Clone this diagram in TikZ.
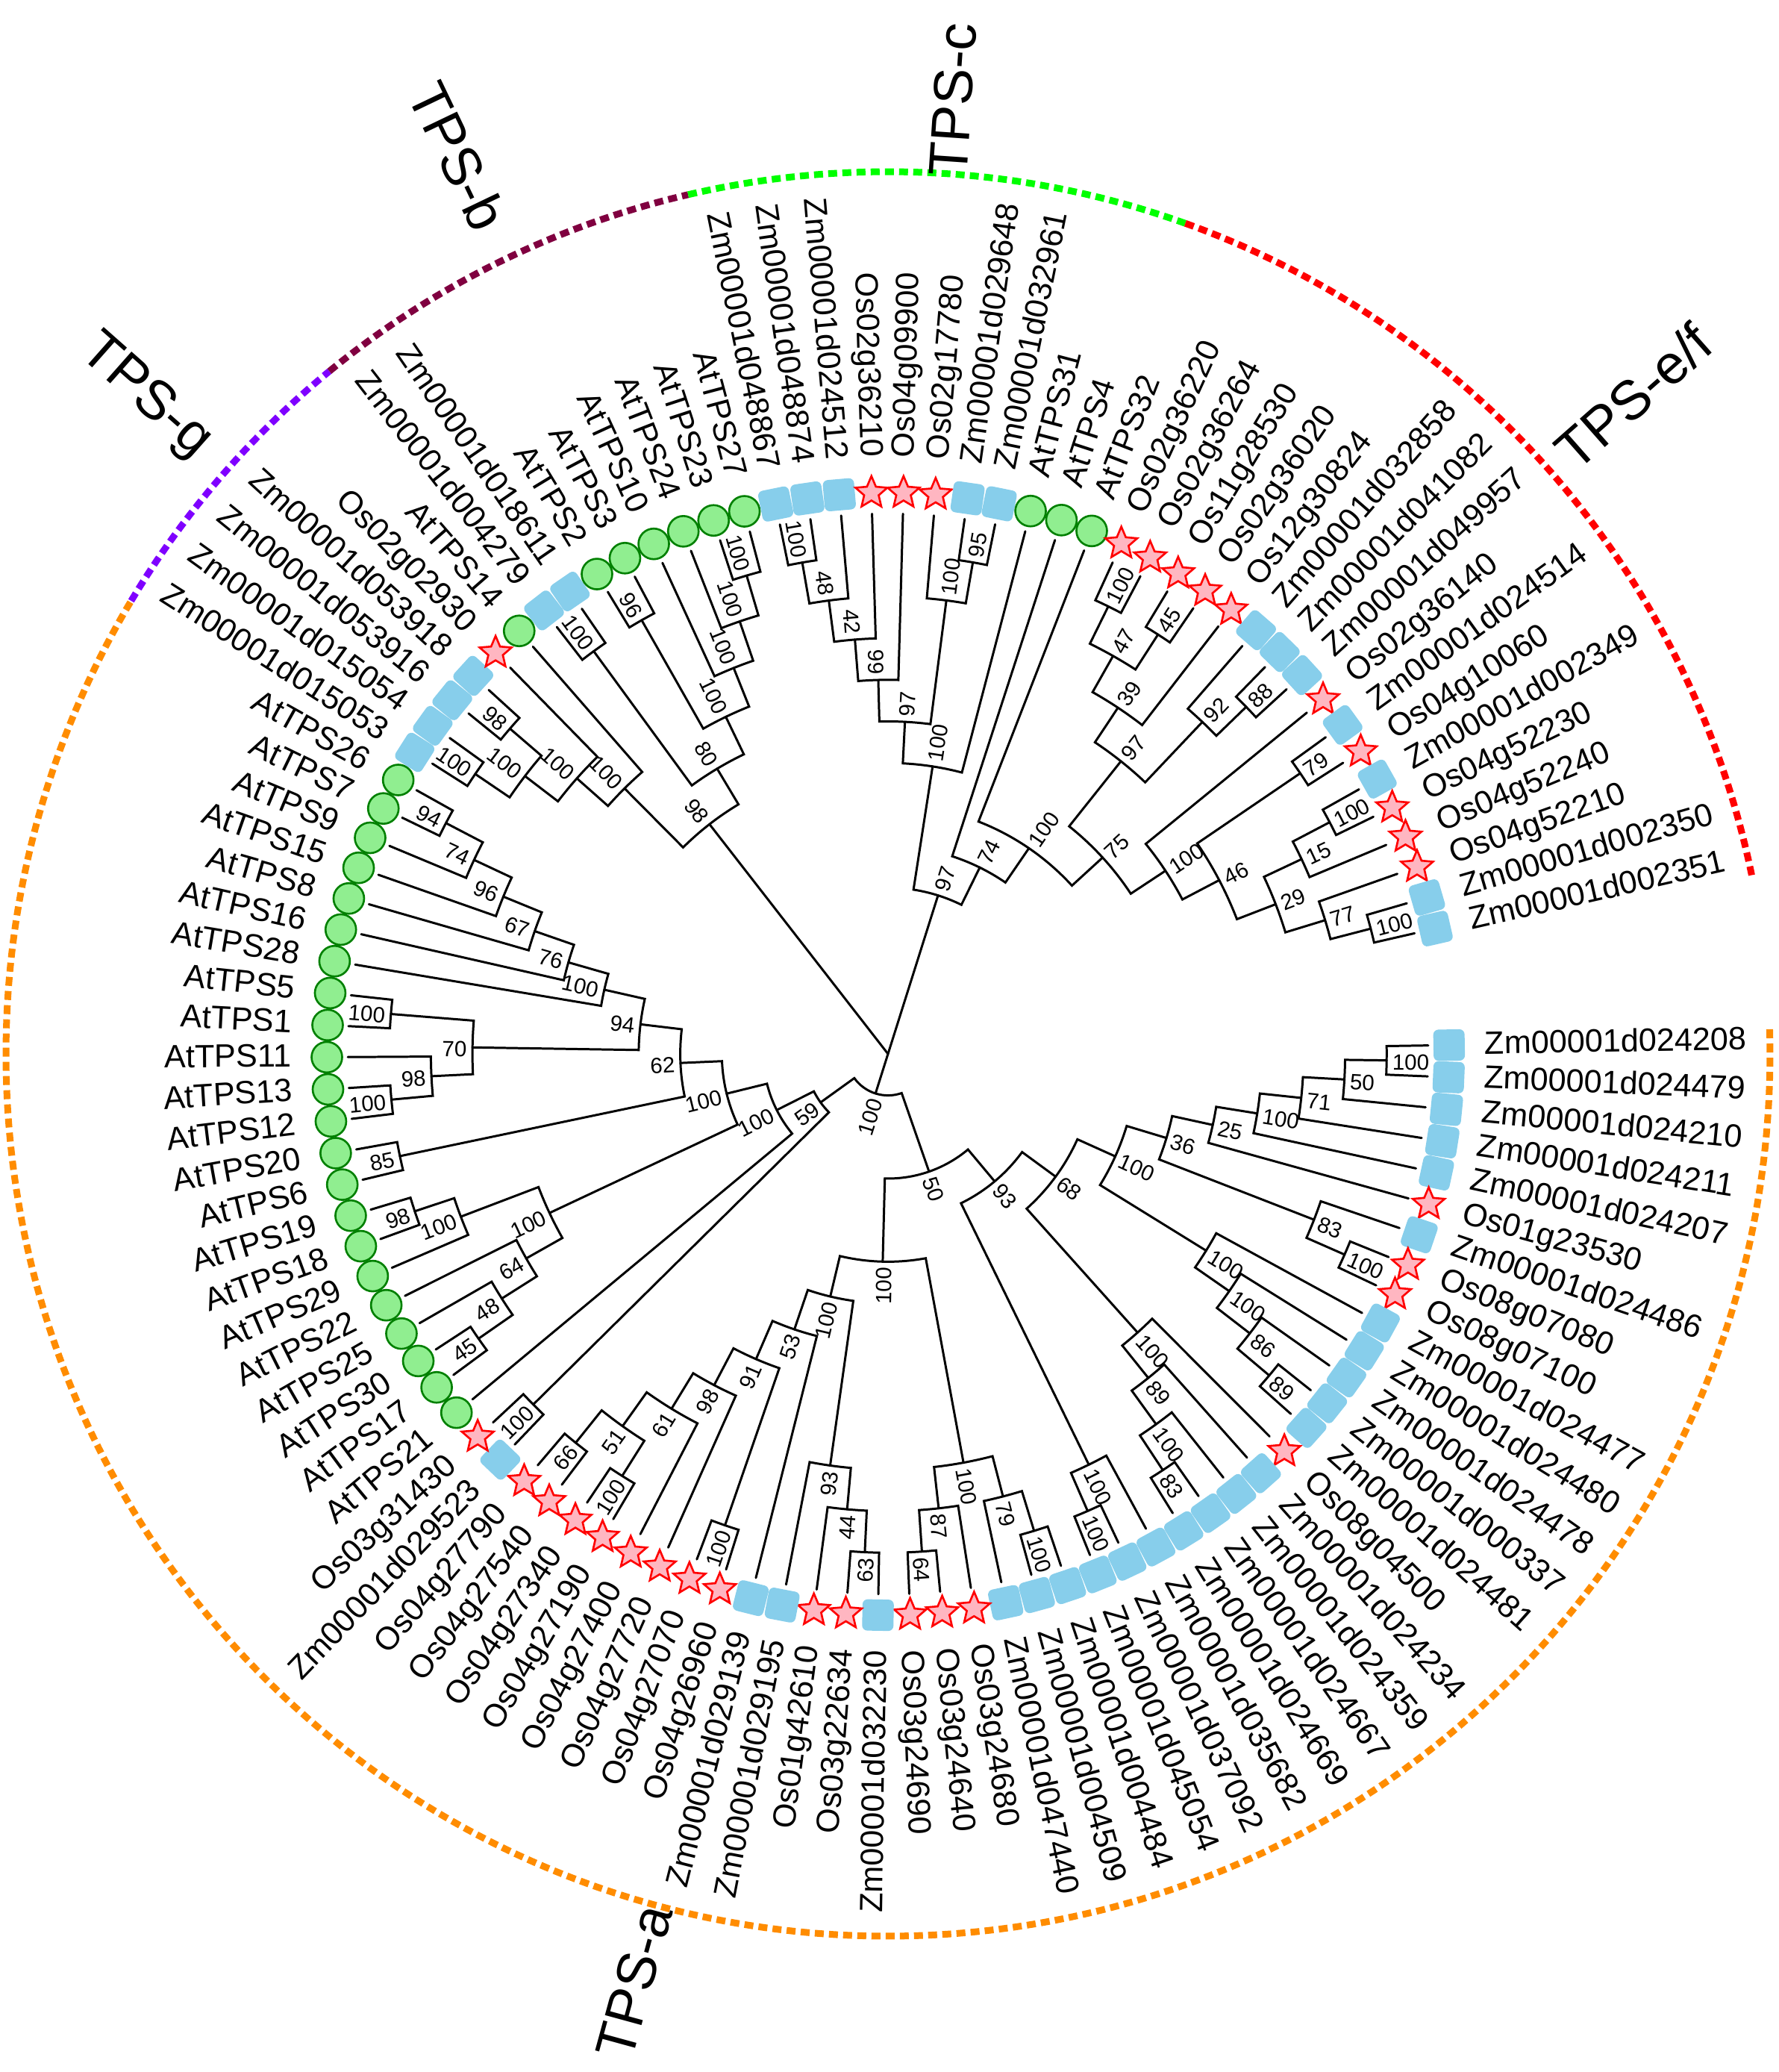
\documentclass[tikz,border=0pt]{standalone}
\usepackage{fontspec}
\setmainfont{Liberation Sans}
\usetikzlibrary{shapes.geometric}

\definecolor{tpsa}{HTML}{FF8C00}
\definecolor{tpsg}{HTML}{7F00FF}
\definecolor{tpsb}{HTML}{800040}
\definecolor{tpsc}{HTML}{00FF00}
\definecolor{tpsef}{HTML}{FF0000}
\definecolor{circfill}{HTML}{90EE90}
\definecolor{circedge}{HTML}{008000}
\definecolor{sqfill}{HTML}{87CEEB}
\definecolor{starfill}{HTML}{FFB6C1}

\def\rtip{7.24}   % radius of the leaf tips
\def\lstep{0.557} % one level of the cladogram
\def\rmark{7.52}  % radius of the markers
\def\rname{7.99}  % radius where the names start

\tikzset{
  branch/.style={line width=0.85pt, line cap=round},
  boot/.style={font=\fontsize{8.4}{10}\selectfont, inner sep=0pt, text height=0.72em, text depth=0pt},
  leafname/.style={font=\fontsize{12.3}{14}\selectfont, inner sep=0pt, text height=0.72em, text depth=0pt},
  sq/.style={rectangle, rounded corners=0.07cm, fill=sqfill, minimum size=0.42cm, inner sep=0pt, rotate=\la},
  st/.style={star, star points=5, star point ratio=2.2, draw=red, fill=starfill, line width=0.75pt, minimum size=0.45cm, inner sep=0pt},
  ci/.style={circle, draw=circedge, fill=circfill, line width=0.75pt, minimum size=0.41cm, inner sep=0pt},
  grouparc/.style={line width=0.09cm, dash pattern=on 0.12cm off 0.07cm},
  grouplabel/.style={font=\fontsize{21}{25}\selectfont, inner sep=0pt}
}

% angle and level of a leaf
\newcommand\setleaf[1]{%
  \pgfmathsetmacro\tpAng{0.9-3.283*#1}%
  \expandafter\xdef\csname a@#1\endcsname{\tpAng}%
  \expandafter\xdef\csname h@#1\endcsname{0}}

% clade: name, first child, second child, bootstrap
\newcommand\clade[4]{%
  \edef\tpA{\csname a@#2\endcsname}\edef\tpB{\csname a@#3\endcsname}%
  \edef\tpHa{\csname h@#2\endcsname}\edef\tpHb{\csname h@#3\endcsname}%
  \pgfmathtruncatemacro\tpH{max(\tpHa,\tpHb)+1}%
  \pgfmathsetmacro\tpAv{(\tpA+\tpB)/2}%
  \pgfmathsetmacro\tpR{\rtip-\lstep*\tpH}%
  \pgfmathsetmacro\tpRa{\rtip-\lstep*\tpHa}%
  \pgfmathsetmacro\tpRb{\rtip-\lstep*\tpHb}%
  \pgfmathsetmacro\tpRl{\tpR+0.07}%
  \draw[branch] (\tpA:\tpRa) -- (\tpA:\tpR) arc[start angle=\tpA, end angle=\tpB, radius=\tpR] -- (\tpB:\tpRb);
  \coordinate (#1) at (\tpAv:\tpR);
  \pgfmathtruncatemacro\tpFlip{cos(\tpAv)<0}%
  \ifnum\tpFlip=1
    \node[boot, anchor=east, rotate=\tpAv+180] (#1-bs) at (\tpAv:\tpRl) {#4};
  \else
    \node[boot, anchor=west, rotate=\tpAv] (#1-bs) at (\tpAv:\tpRl) {#4};
  \fi
  \expandafter\xdef\csname a@#1\endcsname{\tpAv}%
  \expandafter\xdef\csname h@#1\endcsname{\tpH}}

\begin{document}
\begin{tikzpicture}
  \useasboundingbox (-11.90,-13.64) rectangle (11.94,14.12);
  \foreach \ix in {0,...,106} {\setleaf{\ix}}

  % TPS-a, maize group on the right
  \clade{c01}{0}{1}{100}
  \clade{c02}{c01}{2}{50}
  \clade{c03}{c02}{3}{71}
  \clade{c04}{c03}{4}{100}
  \clade{c05}{c04}{5}{25}
  \clade{c78}{7}{8}{100}
  \clade{c68}{6}{c78}{83}
  \clade{c36}{c05}{c68}{36}
  \clade{x1}{12}{13}{89}
  \clade{x2}{11}{x1}{86}
  \clade{x3}{10}{x2}{100}
  \clade{x4}{9}{x3}{100}
  \clade{yy}{c36}{x4}{100}
  \clade{s4}{17}{18}{83}
  \clade{s3}{16}{s4}{100}
  \clade{s2}{15}{s3}{89}
  \clade{s1}{14}{s2}{100}
  \clade{n68}{yy}{s1}{68}
  \clade{u2}{20}{21}{100}
  \clade{u1}{19}{u2}{100}
  \clade{n93}{n68}{u1}{93}
  % TPS-a, bottom
  \clade{v1}{22}{23}{100}
  \clade{v2}{v1}{24}{79}
  \clade{w1}{26}{27}{64}
  \clade{w2}{25}{w1}{87}
  \clade{w3}{v2}{w2}{100}
  \clade{q63}{28}{29}{63}
  \clade{q44}{q63}{30}{44}
  \clade{q93}{31}{q44}{93}
  \clade{q34}{33}{34}{100}
  \clade{q38}{37}{38}{100}
  \clade{q66}{39}{40}{66}
  \clade{q51}{q38}{q66}{51}
  \clade{q61}{36}{q51}{61}
  \clade{q98}{35}{q61}{98}
  \clade{q91}{q34}{q98}{91}
  \clade{q53}{32}{q91}{53}
  \clade{qq}{q93}{q53}{100}
  \clade{big}{w3}{qq}{100}
  \clade{n50}{n93}{big}{50}
  % TPS-a, Arabidopsis
  \clade{p42}{41}{42}{100}
  \clade{a45}{44}{45}{45}
  \clade{a48}{46}{a45}{48}
  \clade{a64}{47}{a48}{64}
  \clade{a50}{49}{50}{98}
  \clade{a49}{48}{a50}{100}
  \clade{a44}{a49}{a64}{100}
  \clade{a85}{51}{52}{85}
  \clade{a13}{53}{54}{100}
  \clade{a98}{55}{a13}{98}
  \clade{a56}{56}{57}{100}
  \clade{a70}{a56}{a98}{70}
  \clade{a63}{63}{64}{94}
  \clade{a74}{62}{a63}{74}
  \clade{a96}{61}{a74}{96}
  \clade{a67}{60}{a96}{67}
  \clade{a76}{59}{a67}{76}
  \clade{a10}{58}{a76}{100}
  \clade{a94}{a10}{a70}{94}
  \clade{a62}{a94}{a85}{62}
  \clade{n2}{a62}{a44}{100}
  \clade{n1}{n2}{43}{100}
  \clade{n59}{n1}{p42}{59}
  \clade{n100}{n50}{n59}{100}
  % TPS-g and TPS-b
  \clade{g1}{65}{66}{100}
  \clade{g2}{67}{68}{98}
  \clade{g3}{g1}{g2}{100}
  \clade{g4}{g3}{69}{100}
  \clade{g5}{g4}{70}{100}
  \clade{b1}{71}{72}{100}
  \clade{b2}{73}{74}{96}
  \clade{b3}{77}{78}{100}
  \clade{b4}{76}{b3}{100}
  \clade{b5}{75}{b4}{100}
  \clade{b6}{b2}{b5}{100}
  \clade{b7}{b1}{b6}{80}
  \clade{n98}{g5}{b7}{98}
  % TPS-c
  \clade{k1}{79}{80}{100}
  \clade{k2}{k1}{81}{48}
  \clade{k3}{k2}{82}{42}
  \clade{k4}{k3}{83}{99}
  \clade{k5}{85}{86}{95}
  \clade{k6}{84}{k5}{100}
  \clade{k7}{k4}{k6}{97}
  \clade{k8}{k7}{87}{100}
  % TPS-e/f
  \clade{e1}{90}{91}{100}
  \clade{e2}{92}{93}{45}
  \clade{e3}{e1}{e2}{47}
  \clade{e4}{e3}{94}{39}
  \clade{e5}{96}{97}{88}
  \clade{e6}{95}{e5}{92}
  \clade{e7}{e4}{e6}{97}
  \clade{f1}{99}{100}{79}
  \clade{f2}{101}{102}{100}
  \clade{f3}{f2}{103}{15}
  \clade{f4}{105}{106}{100}
  \clade{f5}{104}{f4}{77}
  \clade{f6}{f3}{f5}{29}
  \clade{f7}{f1}{f6}{46}
  \clade{f8}{98}{f7}{100}
  \clade{e8}{e7}{f8}{75}
  \clade{e9}{89}{e8}{100}
  \clade{e10}{88}{e9}{74}
  \clade{n97}{k8}{e10}{97}

  % root
  \coordinate (root) at (0,0);
  \draw[branch] (root) -- (n100);
  \draw[branch] (root) -- (n98);
  \draw[branch] (root) -- (n97);

  % leaves: marker and name
  \foreach \ix/\mk/\nm in {0/sq/Zm00001d024208, 1/sq/Zm00001d024479, 2/sq/Zm00001d024210,
    3/sq/Zm00001d024211, 4/sq/Zm00001d024207, 5/st/Os01g23530, 6/sq/Zm00001d024486,
    7/st/Os08g07080, 8/st/Os08g07100, 9/sq/Zm00001d024477, 10/sq/Zm00001d024480,
    11/sq/Zm00001d024478, 12/sq/Zm00001d000337, 13/sq/Zm00001d024481, 14/st/Os08g04500,
    15/sq/Zm00001d024234, 16/sq/Zm00001d024359, 17/sq/Zm00001d024667, 18/sq/Zm00001d024669,
    19/sq/Zm00001d035682, 20/sq/Zm00001d037092, 21/sq/Zm00001d045054, 22/sq/Zm00001d004484,
    23/sq/Zm00001d004509, 24/sq/Zm00001d047440, 25/st/Os03g24680, 26/st/Os03g24640,
    27/st/Os03g24690, 28/sq/Zm00001d032230, 29/st/Os03g22634, 30/st/Os01g42610,
    31/sq/Zm00001d029195, 32/sq/Zm00001d029139, 33/st/Os04g26960, 34/st/Os04g27070,
    35/st/Os04g27720, 36/st/Os04g27400, 37/st/Os04g27190, 38/st/Os04g27340,
    39/st/Os04g27540, 40/st/Os04g27790, 41/sq/Zm00001d029523, 42/st/Os03g31430,
    43/ci/AtTPS21, 44/ci/AtTPS17, 45/ci/AtTPS30, 46/ci/AtTPS25, 47/ci/AtTPS22,
    48/ci/AtTPS29, 49/ci/AtTPS18, 50/ci/AtTPS19, 51/ci/AtTPS6, 52/ci/AtTPS20,
    53/ci/AtTPS12, 54/ci/AtTPS13, 55/ci/AtTPS11, 56/ci/AtTPS1, 57/ci/AtTPS5,
    58/ci/AtTPS28, 59/ci/AtTPS16, 60/ci/AtTPS8, 61/ci/AtTPS15, 62/ci/AtTPS9,
    63/ci/AtTPS7, 64/ci/AtTPS26, 65/sq/Zm00001d015053, 66/sq/Zm00001d015054,
    67/sq/Zm00001d053916, 68/sq/Zm00001d053918, 69/st/Os02g02930, 70/ci/AtTPS14,
    71/sq/Zm00001d004279, 72/sq/Zm00001d018611, 73/ci/AtTPS2, 74/ci/AtTPS3,
    75/ci/AtTPS10, 76/ci/AtTPS24, 77/ci/AtTPS23, 78/ci/AtTPS27, 79/sq/Zm00001d048867,
    80/sq/Zm00001d048874, 81/sq/Zm00001d024512, 82/st/Os02g36210, 83/st/Os04g09900,
    84/st/Os02g17780, 85/sq/Zm00001d029648, 86/sq/Zm00001d032961, 87/ci/AtTPS31,
    88/ci/AtTPS4, 89/ci/AtTPS32, 90/st/Os02g36220, 91/st/Os02g36264, 92/st/Os11g28530,
    93/st/Os02g36020, 94/st/Os12g30824, 95/sq/Zm00001d032858, 96/sq/Zm00001d041082,
    97/sq/Zm00001d049957, 98/st/Os02g36140, 99/sq/Zm00001d024514, 100/st/Os04g10060,
    101/sq/Zm00001d002349, 102/st/Os04g52230, 103/st/Os04g52240, 104/st/Os04g52210,
    105/sq/Zm00001d002350, 106/sq/Zm00001d002351}{
    \pgfmathsetmacro\la{0.9-3.283*\ix}
    \coordinate (L\ix) at (\la:\rtip);
    \node[\mk] (m\ix) at (\la:\rmark) {};
    \pgfmathtruncatemacro\lflip{cos(\la)<0}
    \ifnum\lflip=1
      \node[leafname, anchor=east, rotate=\la+180] (t\ix) at (\la:\rname) {\nm};
    \else
      \node[leafname, anchor=west, rotate=\la] (t\ix) at (\la:\rname) {\nm};
    \fi
  }

  % subfamily arcs
  \draw[grouparc, tpsa] (1.6:11.82) arc[start angle=1.6, end angle=-210.9, radius=11.82];
  \draw[grouparc, tpsg] (-210.9:11.82) arc[start angle=-210.9, end angle=-230.7, radius=11.82];
  \draw[grouparc, tpsb] (-230.7:11.82) arc[start angle=-230.7, end angle=-256.9, radius=11.82];
  \draw[grouparc, tpsc] (-256.9:11.82) arc[start angle=-256.9, end angle=-289.7, radius=11.82];
  \draw[grouparc, tpsef] (-289.7:11.82) arc[start angle=-289.7, end angle=-348.6, radius=11.82];

  \node[grouplabel, rotate=74.7] (lab-a) at (-105.3:12.89) {TPS-a};
  \node[grouplabel, rotate=-41.5] (lab-g) at (138.5:13.29) {TPS-g};
  \node[grouplabel, rotate=-64.4] (lab-b) at (115.6:13.34) {TPS-b};
  \node[grouplabel, rotate=86.1] (lab-c) at (86.1:12.82) {TPS-c};
  \node[grouplabel, rotate=41.4] (lab-ef) at (41.4:13.32) {TPS-e/f};
\end{tikzpicture}
\end{document}
